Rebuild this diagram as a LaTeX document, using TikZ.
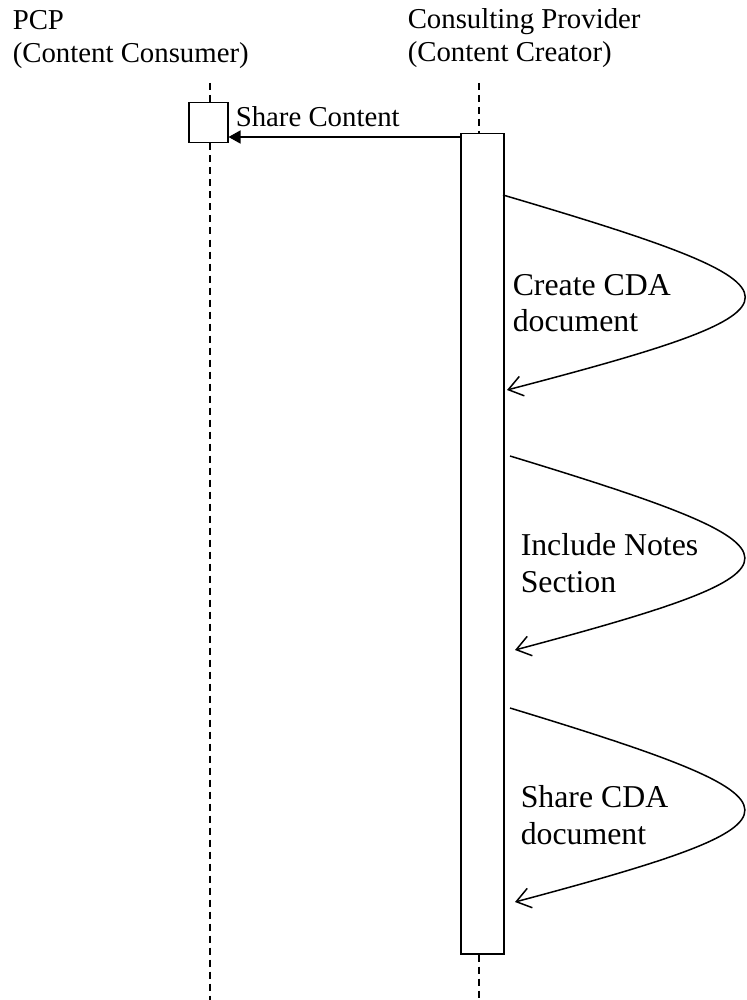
\documentclass[tikz,border=0pt]{standalone}
\usepackage{fontspec}
\setmainfont{Liberation Serif}
\usetikzlibrary{arrows.meta}
\begin{document}
\begin{tikzpicture}[x=1pt,y=-1pt,line width=1.5pt,
  lbl/.style={anchor=base west,inner sep=0pt,font=\fontsize{28.8}{33}\selectfont},
  blbl/.style={anchor=base west,inner sep=0pt,font=\fontsize{31.8}{36}\selectfont},
  life/.style={dash pattern=on 7pt off 5pt},
  box/.style={draw,inner sep=0pt,anchor=north west},
  msg/.style={-{Triangle[length=12pt,width=13pt]}},
  selfmsg/.style={-{Straight Barb[length=14pt,width=20pt]}}]
\useasboundingbox (0,0) rectangle (746,1000);
% headers
\node[lbl] (h1a) at (12,30) {PCP};
\node[lbl] (h1b) at (12,63) {(Content Consumer)};
\node[lbl] (h2a) at (407,29) {Consulting Provider};
\node[lbl] (h2b) at (407,62) {(Content Creator)};
% lifelines
\coordinate (pcpTop) at (210,83);
\coordinate (pcpEnd) at (210,1000);
\coordinate (cpTop) at (479,83);
\coordinate (cpEnd) at (479,1000);
\node[box,minimum width=39pt,minimum height=40pt] (pcpbox) at (188,102) {};
\node[box,minimum width=43pt,minimum height=820pt] (bar) at (460,133) {};
\draw[life] (pcpTop) -- (pcpTop |- pcpbox.north);
\draw[life] (pcpTop |- pcpbox.south) -- (pcpEnd);
\draw[life] (cpTop) -- (cpTop |- bar.north);
\draw[life] (cpTop |- bar.south) -- (cpEnd);
% share content
\coordinate (sc0) at ([yshift=-4pt]bar.north west);
\draw[msg] (sc0) -- (pcpbox.east |- sc0);
\node[lbl] (sclbl) at (235,127) {Share Content};
% self messages
\coordinate (l1s) at (503,195);
\coordinate (l1e) at (507,390);
\draw[selfmsg] (l1s) .. controls (825,290) and (825,307) .. (l1e);
\node[blbl] (l1a) at (512,295) {Create CDA};
\node[blbl] (l1b) at (512,331) {document};
\coordinate (l2s) at (510,456);
\coordinate (l2e) at (515,650);
\draw[selfmsg] (l2s) .. controls (822,551) and (822,568) .. (l2e);
\node[blbl] (l2a) at (520,555) {Include Notes};
\node[blbl] (l2b) at (520,592) {Section};
\coordinate (l3s) at (510,708);
\coordinate (l3e) at (515,902);
\draw[selfmsg] (l3s) .. controls (822,803) and (822,820) .. (l3e);
\node[blbl] (l3a) at (520,807) {Share CDA};
\node[blbl] (l3b) at (520,844) {document};
\end{tikzpicture}
\end{document}
